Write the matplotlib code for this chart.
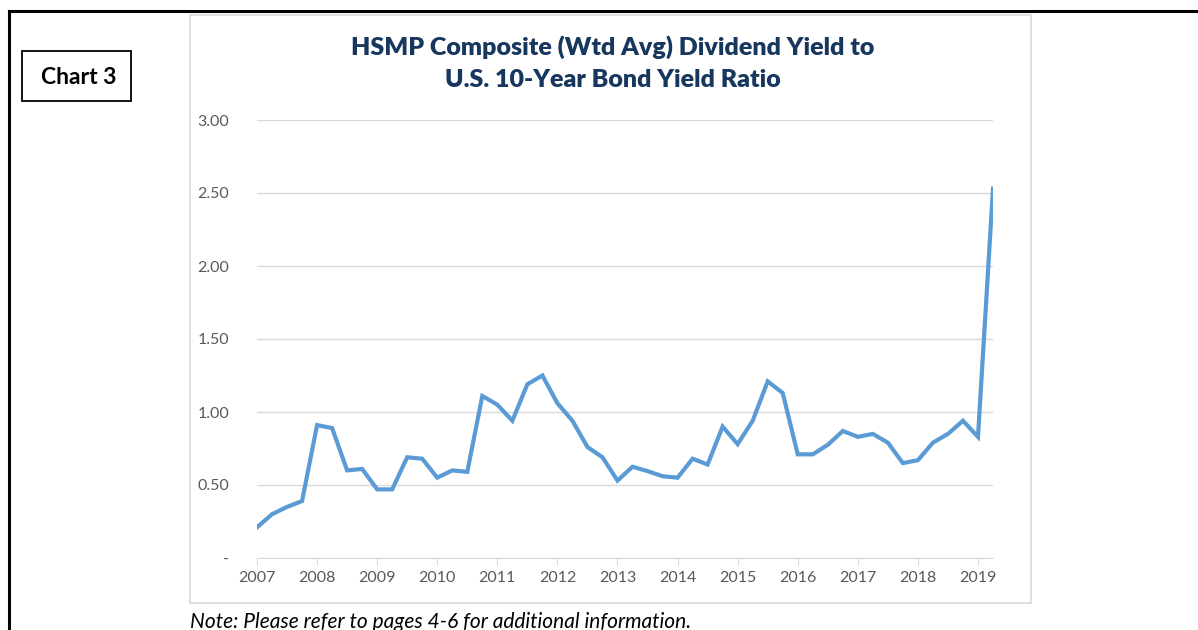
import numpy as np
import matplotlib.pyplot as plt
from matplotlib.patches import Rectangle
from matplotlib.lines import Line2D

# quarterly observations, 2007 Q1 .. 2019 Q2
start_year = 2007
ratio = [0.21, 0.30, 0.35, 0.39, 0.91, 0.89, 0.60, 0.61,
         0.47, 0.47, 0.69, 0.68, 0.55, 0.60, 0.59, 1.11,
         1.05, 0.94, 1.19, 1.25, 1.06, 0.94, 0.76, 0.69,
         0.53, 0.625, 0.595, 0.56, 0.55, 0.68, 0.64, 0.90,
         0.78, 0.94, 1.21, 1.13, 0.71, 0.71, 0.775, 0.87,
         0.83, 0.85, 0.79, 0.65, 0.67, 0.79, 0.85, 0.94,
         0.83, 2.53]
years = list(range(2007, 2020))
yticks = [0, 0.5, 1.0, 1.5, 2.0, 2.5, 3.0]
ylabels = ['-', '0.50', '1.00', '1.50', '2.00', '2.50', '3.00']

x = start_year + np.arange(len(ratio)) / 4.0

W, H = 1198, 630
fig = plt.figure(figsize=(W / 100, H / 100), dpi=100)
font = 'Lato'

# outer black frame (continues past the right and bottom edges)
fig.add_artist(Line2D([9 / W, 1.01], [1 - 11 / H, 1 - 11 / H], color='black', lw=2.2, transform=fig.transFigure))
fig.add_artist(Line2D([9 / W, 9 / W], [1 - 11 / H, -0.01], color='black', lw=2.2, transform=fig.transFigure))

# chart area border
fig.add_artist(Rectangle((190 / W, 1 - 603 / H), 841 / W, 588 / H, fill=False,
                         edgecolor='#D9D9D9', lw=1.2, transform=fig.transFigure))

# "Chart 3" box
fig.add_artist(Rectangle((22 / W, 1 - 101 / H), 109 / W, 50 / H, fill=False,
                         edgecolor='black', lw=1.3, transform=fig.transFigure))
fig.text(79 / W, 1 - 77 / H, 'Chart 3', ha='center', va='center', fontsize=16.5,
         fontweight='bold', family=font, color='black')

fig.text(613 / W, 1 - 47 / H, 'HSMP Composite (Wtd Avg) Dividend Yield to', ha='center', va='center',
         fontsize=18, fontweight='heavy', family=font, color='#17375E')
fig.text(613 / W, 1 - 80 / H, 'U.S. 10-Year Bond Yield Ratio', ha='center', va='center',
         fontsize=18, fontweight='heavy', family=font, color='#17375E')

fig.text(190 / W, 1 - 622 / H, 'Note: Please refer to pages 4-6 for additional information.',
         ha='left', va='center', fontsize=15, style='italic', family=font, color='black')

ax = fig.add_axes([257 / W, 1 - 558 / H, 736 / W, 438 / H])
ax.plot(x, ratio, color='#5B9BD5', lw=3.0, solid_joinstyle='miter')
ax.set_xlim(2007, 2019.25)
ax.set_ylim(0, 3.0)
ax.set_yticks(yticks)
ax.set_yticklabels(ylabels)
ax.set_xticks(years)
ax.set_xticklabels([str(y) for y in years])
ax.grid(axis='y', color='#D9D9D9', lw=1)
ax.set_axisbelow(True)
for s in ['top', 'right', 'left']:
    ax.spines[s].set_visible(False)
ax.spines['bottom'].set_color('#D9D9D9')
ax.tick_params(axis='y', length=0, pad=20, labelsize=11.5, labelcolor='#595959')
ax.tick_params(axis='x', length=5, color='#D9D9D9', pad=4, labelsize=11.5, labelcolor='#595959')
for lbl in ax.get_xticklabels() + ax.get_yticklabels():
    lbl.set_family(font)

fig.savefig('out.png', dpi=100)
